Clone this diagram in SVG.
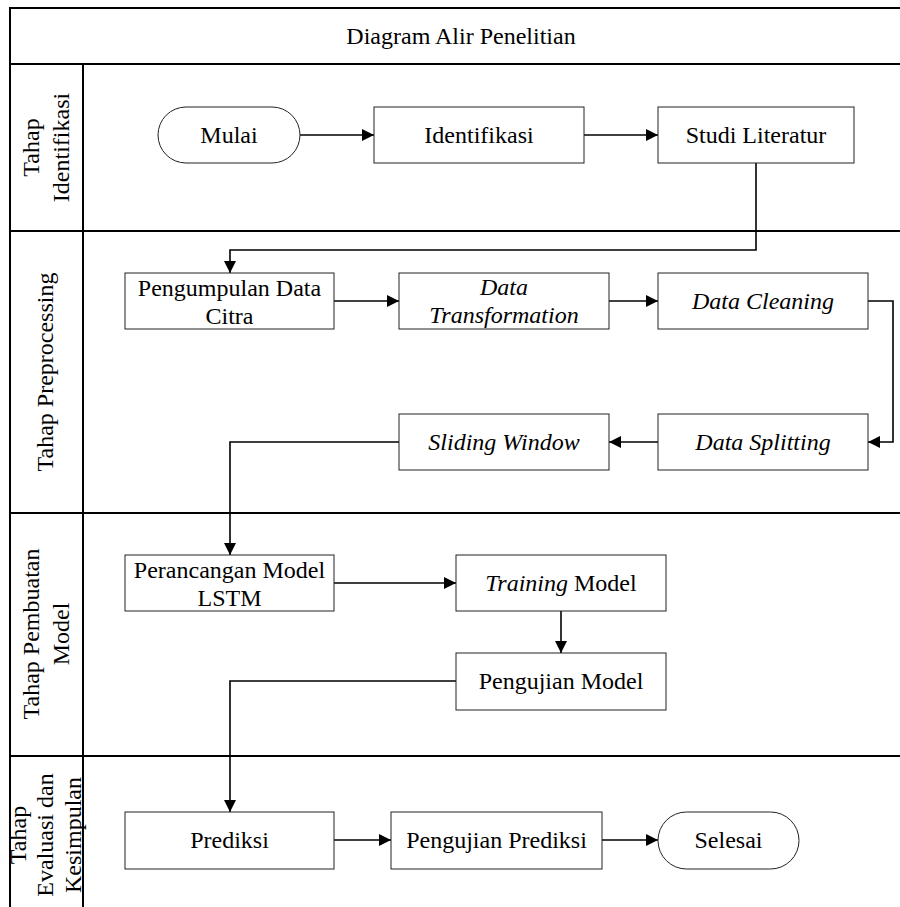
<svg xmlns="http://www.w3.org/2000/svg" width="900" height="907" viewBox="0 0 900 907">
<style>
text{font-family:"Liberation Serif","Times New Roman",serif;font-size:24px;fill:#000;text-anchor:middle}
.it{font-style:italic}
.lane{stroke:#000;stroke-width:2;fill:none}
.box{fill:#fff;stroke:#222;stroke-width:1}
.con{stroke:#000;stroke-width:1.6;fill:none;marker-end:url(#ah)}
</style>
<defs>
<marker id="ah" markerUnits="userSpaceOnUse" markerWidth="13" markerHeight="12" refX="12" refY="6" orient="auto">
<path d="M0,0 L12,6 L0,12 z" fill="#000"/>
</marker>
</defs>
<rect width="900" height="907" fill="#fff"/>
<g id="lanes">
<path class="lane" d="M10,907 V8 H900 M10,64 H900 M83,64 V907 M10,231 H900 M10,513 H900 M10,756 H900"/>
<text x="461" y="44">Diagram Alir Penelitian</text>
<text transform="translate(0,147.5) rotate(-90)"><tspan x="0" y="39">Tahap</tspan><tspan x="0" y="69">Identifikasi</tspan></text>
<text transform="translate(0,372) rotate(-90)" x="0" y="53">Tahap Preprocessing</text>
<text transform="translate(0,634) rotate(-90)"><tspan x="0" y="39">Tahap Pembuatan</tspan><tspan x="0" y="69">Model</tspan></text>
<text transform="translate(0,835) rotate(-90)"><tspan x="0" y="26">Tahap</tspan><tspan x="0" y="53">Evaluasi dan</tspan><tspan x="0" y="81">Kesimpulan</tspan></text>
</g>
<g id="connectors">
<path class="con" d="M300,135 H374"/>
<path class="con" d="M584,135 H658"/>
<path class="con" d="M756,163 V250 H230 V273"/>
<path class="con" d="M334,301 H399"/>
<path class="con" d="M609,301 H658"/>
<path class="con" d="M868,301 H893 V442 H868"/>
<path class="con" d="M658,442 H609"/>
<path class="con" d="M399,442 H230 V555"/>
<path class="con" d="M334,583 H456"/>
<path class="con" d="M561,611 V653"/>
<path class="con" d="M456,681 H230 V812"/>
<path class="con" d="M334,840 H391"/>
<path class="con" d="M602,840 H658"/>
</g>
<g id="mulai"><rect class="box" x="158" y="107" width="142" height="56" rx="28"/><text x="229" y="143">Mulai</text></g>
<g id="identifikasi"><rect class="box" x="374" y="107" width="210" height="56"/><text x="479" y="143">Identifikasi</text></g>
<g id="studi-literatur"><rect class="box" x="658" y="107" width="196" height="56"/><text x="756" y="143">Studi Literatur</text></g>
<g id="pengumpulan"><rect class="box" x="125" y="273" width="209" height="56"/><text><tspan x="229.5" y="296">Pengumpulan Data</tspan><tspan x="229.5" y="324">Citra</tspan></text></g>
<g id="data-transformation"><rect class="box" x="399" y="273" width="210" height="56"/><text class="it"><tspan x="504" y="295">Data</tspan><tspan x="504" y="323">Transformation</tspan></text></g>
<g id="data-cleaning"><rect class="box" x="658" y="273" width="210" height="56"/><text class="it" x="763" y="309">Data Cleaning</text></g>
<g id="data-splitting"><rect class="box" x="658" y="414" width="210" height="56"/><text class="it" x="763" y="450">Data Splitting</text></g>
<g id="sliding-window"><rect class="box" x="399" y="414" width="210" height="56"/><text class="it" x="504" y="450">Sliding Window</text></g>
<g id="perancangan"><rect class="box" x="125" y="555" width="209" height="56"/><text><tspan x="229.5" y="578">Perancangan Model</tspan><tspan x="229.5" y="606">LSTM</tspan></text></g>
<g id="training"><rect class="box" x="456" y="555" width="210" height="56"/><text x="561" y="591"><tspan class="it">Training</tspan> Model</text></g>
<g id="pengujian-model"><rect class="box" x="456" y="653" width="210" height="57"/><text x="561" y="689">Pengujian Model</text></g>
<g id="prediksi"><rect class="box" x="125" y="812" width="209" height="57"/><text x="229.5" y="848">Prediksi</text></g>
<g id="pengujian-prediksi"><rect class="box" x="391" y="812" width="211" height="57"/><text x="496.5" y="848">Pengujian Prediksi</text></g>
<g id="selesai"><rect class="box" x="658" y="812" width="141" height="57" rx="28.5"/><text x="728.5" y="848">Selesai</text></g>
</svg>
